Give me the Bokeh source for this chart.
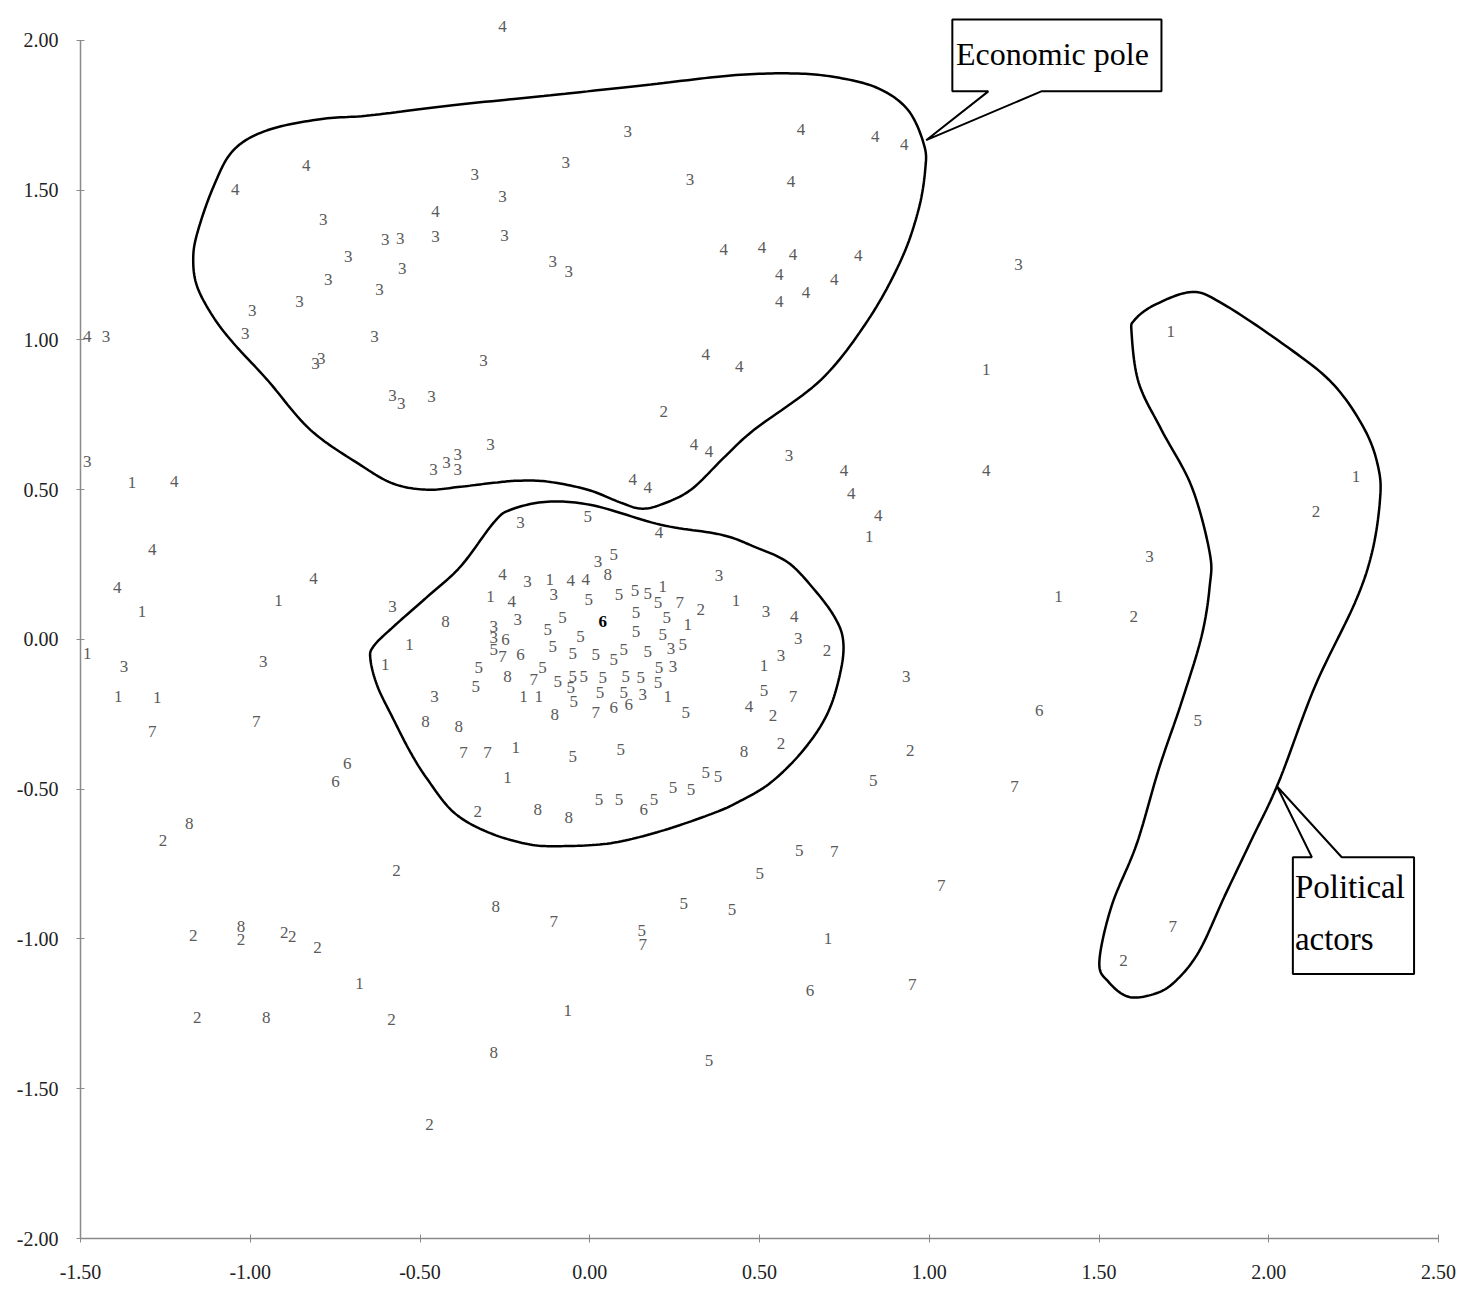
import numpy as np
from bokeh.plotting import figure
from bokeh.models import ColumnDataSource, FixedTicker
from bokeh.embed import file_html
from bokeh.resources import INLINE
from bokeh.core.properties import value

# ---------------- data: point labels by group ----------------
x1 = [1.168, 1.711, -1.348, -1.319, -0.917, -1.48, -1.389, -1.274, -0.118, -0.292, 0.215, 0.289, -0.195, -0.15,
      0.23, -0.531, -0.602, -0.218, -0.242, 0.823, 1.381, 0.431, 0.513, 2.257, -0.678, -0.065, 0.702]
y1 = [0.903, 1.027, 0.523, 0.093, 0.13, -0.047, -0.19, -0.193, 0.2, 0.143, 0.177, 0.05, -0.19, -0.19,
      -0.19, -0.017, -0.083, -0.36, -0.46, 0.343, 0.143, 0.13, -0.087, 0.543, -1.147, -1.24, -0.997]

x2 = [0.218, -1.257, 0.327, -0.33, 0.699, 0.54, 0.563, 0.944, 2.139, 1.602, -1.168, -1.027, -0.9, -0.876,
      -0.802, -1.156, -0.569, -0.584, -0.472, 1.572]
y2 = [0.76, -0.67, 0.1, -0.573, -0.037, -0.253, -0.347, -0.37, 0.427, 0.077, -0.987, -1.003, -0.98, -0.993,
      -1.03, -1.263, -0.77, -1.27, -1.62, -1.073]

x3 = [-0.785, -0.711, -0.770, -0.855, -0.994, -1.015, -0.808, -0.791, -1.425, 0.112, -0.071, -0.339, 0.295,
      -0.257, -0.602, -0.558, -0.454, -0.251, -0.552, -0.109, -0.062, -0.619, -0.634, -0.313, -0.581, -0.555,
      -0.466, 1.263, -1.48, -1.372, -0.962, -0.46, -0.422, -0.389, -0.389, -0.292, -0.204, 0.024, -0.183,
      -0.106, -0.212, -0.283, -0.283, 0.239, 0.245, 0.156, -0.581, -0.457, 0.587, 0.381, 0.519, 0.614,
      0.563, 0.932, 1.649]
y3 = [1.403, 1.277, 1.203, 1.127, 1.097, 1.020, 0.92, 0.937, 1.013, 1.697, 1.593, 1.553, 1.537,
      1.48, 1.337, 1.34, 1.347, 1.35, 1.237, 1.263, 1.227, 1.17, 1.01, 0.93, 0.813, 0.787,
      0.81, 1.253, 0.593, -0.09, -0.073, 0.567, 0.59, 0.617, 0.567, 0.65, 0.39, 0.26, 0.193,
      0.15, 0.067, 0.043, 0.007, -0.03, -0.09, -0.183, 0.11, -0.19, 0.613, 0.213, 0.093, 0.003,
      -0.053, -0.123, 0.277]

x4 = [-0.835, -1.044, -1.48, -0.257, -0.454, 0.395, 0.342, 0.622, 0.841, 0.926, 0.593, 0.507, 0.599, 0.791,
      0.558, 0.720, 0.637, 0.558, 0.44, -1.224, -1.289, -1.392, -0.814, 0.307, 0.351, 0.127, 0.171, 0.204,
      -0.257, -0.056, -0.012, -0.23, 0.749, 0.77, 0.85, 1.168, 0.602, 0.469]
y4 = [1.583, 1.503, 1.01, 2.047, 1.43, 1.303, 0.953, 1.703, 1.68, 1.653, 1.53, 1.31, 1.287, 1.283,
      1.22, 1.203, 1.16, 1.127, 0.91, 0.527, 0.30, 0.173, 0.203, 0.65, 0.627, 0.533, 0.507, 0.357,
      0.217, 0.197, 0.2, 0.127, 0.563, 0.487, 0.413, 0.563, 0.077, -0.223]

x5 = [-0.006, 0.071, -0.003, 0.086, 0.133, 0.171, 0.201, -0.124, -0.08, 0.136, 0.227, -0.027, 0.136, 0.215,
      -0.283, -0.109, -0.05, 0.018, 0.1, 0.171, 0.274, -0.139, -0.327, -0.336, -0.094, -0.05, -0.018, 0.038,
      0.071, 0.106, 0.15, 0.204, 0.201, -0.056, -0.047, 0.03, 0.1, 0.283, -0.05, 0.091, 0.027, 0.086,
      0.189, 0.245, 0.298, 0.342, 0.378, 0.513, 0.835, 1.791, 0.153, 0.277, 0.351, 0.419, 0.617, 0.501]
y5 = [0.41, 0.283, 0.133, 0.15, 0.163, 0.153, 0.123, 0.033, 0.073, 0.09, 0.073, 0.01, 0.027, 0.017,
      -0.033, -0.023, -0.047, -0.05, -0.033, -0.04, -0.017, -0.093, -0.093, -0.157, -0.14, -0.123, -0.123, -0.127,
      -0.067, -0.123, -0.127, -0.093, -0.143, -0.16, -0.207, -0.177, -0.177, -0.243, -0.39, -0.367, -0.533, -0.533,
      -0.533, -0.493, -0.5, -0.443, -0.457, -0.17, -0.47, -0.27, -0.973, -0.88, -1.407, -0.903, -0.703, -0.78]

x6 = [-0.714, -0.749, -0.248, -0.204, 0.071, 0.115, 0.159, 1.324, 0.649]
y6 = [-0.413, -0.473, 0.0, -0.05, -0.227, -0.217, -0.567, -0.237, -1.173]
x6_bold = [0.038]
y6_bold = [0.06]

x7 = [-1.289, -0.982, 0.265, -0.257, -0.165, 0.018, -0.372, -0.301, 0.599, 1.251, -0.106, 0.156, 0.72,
      1.035, 0.95, 1.717]
y7 = [-0.307, -0.273, 0.123, -0.057, -0.133, -0.243, -0.377, -0.377, -0.19, -0.49, -0.94, -1.02, -0.707,
      -0.823, -1.153, -0.957]

x8 = [-1.18, 0.053, -0.242, -0.103, -0.425, -0.484, -0.386, -0.153, -0.062, 0.454, -1.027, -0.953, -0.277, -0.283]
y8 = [-0.613, 0.217, -0.123, -0.25, 0.06, -0.273, -0.29, -0.567, -0.593, -0.373, -0.957, -1.263, -0.89, -1.38]

x_ticks = [-1.5, -1.0, -0.5, 0.0, 0.5, 1.0, 1.5, 2.0, 2.5]
x_tick_labels = ["-1.50", "-1.00", "-0.50", "0.00", "0.50", "1.00", "1.50", "2.00", "2.50"]
y_ticks = [-2.0, -1.5, -1.0, -0.5, 0.0, 0.5, 1.0, 1.5, 2.0]
y_tick_labels = ["-2.00", "-1.50", "-1.00", "-0.50", "0.00", "0.50", "1.00", "1.50", "2.00"]

# ---------------- annotation outlines (data units) ----------------
econ_x = [-1.168, -1.156, -1.109, -1.050, -0.950, -0.794, -0.646, -0.41, -0.115, 0.18, 0.416, 0.593, 0.726,
          0.85, 0.938, 0.985, 0.988, 0.968, 0.917, 0.82, 0.681, 0.484, 0.395, 0.298, 0.209, 0.150, 0.091,
          -0.006, -0.124, -0.212, -0.283, -0.381, -0.478, -0.578, -0.676, -0.823, -0.95, -1.05, -1.109, -1.156]
econ_y = [1.267, 1.357, 1.51, 1.633, 1.70, 1.737, 1.75, 1.783, 1.817, 1.853, 1.883, 1.89, 1.877,
          1.84, 1.767, 1.65, 1.567, 1.433, 1.267, 1.067, 0.867, 0.70, 0.607, 0.50, 0.45, 0.437, 0.457,
          0.50, 0.527, 0.53, 0.523, 0.51, 0.50, 0.52, 0.583, 0.70, 0.867, 0.99, 1.077, 1.177]

center_x = [-0.124, 0.012, 0.209, 0.386, 0.484, 0.584, 0.661, 0.720, 0.746, 0.740, 0.702, 0.631, 0.534, 0.437,
            0.357, 0.209, 0.062, -0.086, -0.183, -0.301, -0.401, -0.478, -0.528, -0.578, -0.625, -0.646,
            -0.637, -0.578, -0.478, -0.381, -0.283, -0.233]
center_y = [0.46, 0.447, 0.383, 0.35, 0.31, 0.257, 0.167, 0.077, 0.0, -0.10, -0.243, -0.367, -0.477, -0.543,
            -0.583, -0.64, -0.68, -0.69, -0.683, -0.643, -0.577, -0.467, -0.377, -0.267, -0.157, -0.067,
            -0.023, 0.043, 0.143, 0.243, 0.39, 0.433]

pol_x = [1.773, 1.861, 2.038, 2.186, 2.283, 2.324, 2.327, 2.304, 2.254, 2.136, 2.029, 1.95, 1.870, 1.794,
         1.723, 1.664, 1.587, 1.528, 1.501, 1.537, 1.611, 1.676, 1.743, 1.802, 1.826, 1.826, 1.773, 1.684,
         1.617, 1.596, 1.605, 1.664]
pol_y = [1.16, 1.123, 0.99, 0.857, 0.70, 0.567, 0.457, 0.29, 0.123, -0.157, -0.477, -0.667, -0.857, -1.043,
         -1.143, -1.183, -1.193, -1.143, -1.077, -0.89, -0.683, -0.433, -0.21, 0.01, 0.177, 0.29, 0.51, 0.70,
         0.857, 1.023, 1.067, 1.117]

econ_box_x = [1.068, 1.684, 1.684, 1.330, 0.991, 1.174, 1.068]
econ_box_y = [2.07, 2.07, 1.83, 1.83, 1.667, 1.83, 1.83]
pol_box_x = [2.071, 2.127, 2.024, 2.215, 2.428, 2.428, 2.071]
pol_box_y = [-0.727, -0.727, -0.49, -0.727, -0.727, -1.117, -1.117]


def closed_spline(xs, ys, n=14):
    P = np.column_stack([xs, ys]).astype(float)
    m = len(P)
    out = []
    for i in range(m):
        p0, p1, p2, p3 = P[(i - 1) % m], P[i], P[(i + 1) % m], P[(i + 2) % m]
        for t in np.linspace(0, 1, n, endpoint=False):
            t2, t3 = t * t, t * t * t
            pt = 0.5 * ((2 * p1) + (-p0 + p2) * t + (2 * p0 - 5 * p1 + 4 * p2 - p3) * t2
                        + (-p0 + 3 * p1 - 3 * p2 + p3) * t3)
            out.append(pt)
    out.append(out[0])
    arr = np.array(out)
    return arr[:, 0], arr[:, 1]


xs_all, ys_all, lab_all = [], [], []
for lab, xx, yy in [("1", x1, y1), ("2", x2, y2), ("3", x3, y3), ("4", x4, y4),
                    ("5", x5, y5), ("6", x6, y6), ("7", x7, y7), ("8", x8, y8)]:
    xs_all += xx
    ys_all += yy
    lab_all += [lab] * len(xx)
src = ColumnDataSource(dict(x=xs_all, y=ys_all, label=lab_all))

p = figure(width=1458, height=1288, x_range=(-1.5, 2.5), y_range=(-2.0, 2.1),
           output_backend="svg", toolbar_location=None,
           min_border_left=80, min_border_right=20, min_border_top=10, min_border_bottom=50)
p.xgrid.visible = False
p.ygrid.visible = False
p.outline_line_color = None
p.background_fill_color = "white"

for ax, ticks, labels in [(p.xaxis[0], x_ticks, x_tick_labels), (p.yaxis[0], y_ticks, y_tick_labels)]:
    ax.ticker = FixedTicker(ticks=ticks)
    ax.major_label_overrides = {t: l for t, l in zip(ticks, labels)}
    ax.axis_line_color = "#8a8a8a"
    ax.axis_line_width = 1.5
    ax.major_tick_line_color = "#8a8a8a"
    ax.major_tick_in = 4
    ax.major_tick_out = 4
    ax.minor_tick_line_color = None
    ax.major_label_text_font = "Liberation Serif"
    ax.major_label_text_font_size = "20px"
    ax.major_label_text_color = "#222222"
p.xaxis[0].bounds = (-1.5, 2.5)
p.yaxis[0].bounds = (-2.0, 2.0)
p.xaxis[0].major_label_standoff = 22
p.yaxis[0].major_label_standoff = 18

# outlines
for ox, oy in [(econ_x, econ_y), (center_x, center_y), (pol_x, pol_y)]:
    sx, sy = closed_spline(ox, oy)
    p.line(sx, sy, line_color="black", line_width=2.5)

# point labels
p.text(x="x", y="y", text="label", source=src, text_font=value("Liberation Serif"),
       text_font_size="17px", text_color="#5a5a5a", text_align="center", text_baseline="middle")
p.text(x=x6_bold, y=y6_bold, text=["6"], text_font=value("Liberation Serif"), text_font_size="17px",
       text_font_style="bold", text_color="black", text_align="center", text_baseline="middle")

# callouts
p.patch(econ_box_x, econ_box_y, fill_color="white", line_color="black", line_width=2)
p.patch(pol_box_x, pol_box_y, fill_color="white", line_color="black", line_width=2)
p.text(x=[1.079], y=[1.955], text=["Economic pole"], text_font=value("Liberation Serif"),
       text_font_size="32px", text_color="black", text_align="left", text_baseline="middle")
p.text(x=[2.077, 2.077], y=[-0.827, -1.0], text=["Political", "actors"], text_font=value("Liberation Serif"),
       text_font_size="33px", text_color="black", text_align="left", text_baseline="middle")

open("out.html", "w").write(file_html(p, INLINE))
